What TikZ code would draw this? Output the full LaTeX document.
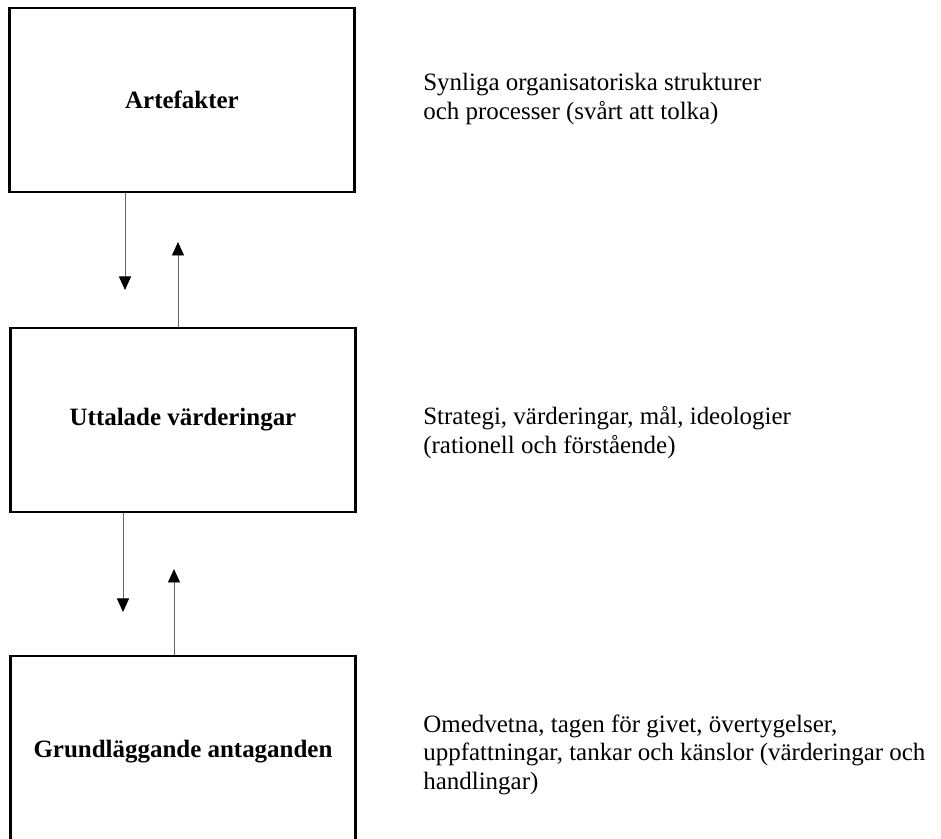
\documentclass[tikz,border=0pt]{standalone}
\usepackage{fontspec}
\setmainfont{Liberation Serif}
\usetikzlibrary{arrows.meta}

\begin{document}
\begin{tikzpicture}[cap=round]

    \def\boxw{6.9}
    \def\boxh{3.68}
    \def\xbox{3.66}
    \def\xnote{8.46}

    % Styles
    \tikzstyle{level}=[draw, line width=1.2pt, minimum width=\boxw cm, minimum height=\boxh cm, inner sep=0pt, font=\bfseries\fontsize{14.2}{16.5}\selectfont]
    \tikzstyle{note}=[anchor=base west, inner sep=0pt, align=left, font=\fontsize{14.2}{16.5}\selectfont]
    \tikzstyle{flow}=[draw=black!60, line width=0.55pt, -{Triangle[width=0.24cm,length=0.27cm,black]}]

    \useasboundingbox (0,0) rectangle (18.82,16.78);
    \clip (0,0) rectangle (18.82,16.78);

    % artefakter
    \node[level] (art) at (3.64,14.78) {Artefakter};
    \node[note] (artnote) at (\xnote,14.38) {Synliga organisatoriska strukturer\\och processer (svårt att tolka)};

    % uttalade vaerderingar
    \node[level] (vard) at (\xbox,8.38) {Uttalade värderingar};
    \node[note] (vardnote) at (\xnote,7.70) {Strategi, värderingar, mål, ideologier\\(rationell och förstående)};

    % grundlaeggande antaganden
    \node[level, minimum height=3.84cm] (grund) at (\xbox,1.74) {Grundläggande antaganden};
    \node[note] (grundnote) at (\xnote,0.98) {Omedvetna, tagen för givet, övertygelser,\\uppfattningar, tankar och känslor (värderingar och\\handlingar)};

    % arrows between artefakter and vaerderingar
    \coordinate (artdown) at (2.5,10.98);
    \coordinate (vardup) at (3.56,11.94);
    \draw[flow] (art.south -| artdown) -- (artdown);
    \draw[flow] (vard.north -| vardup) -- (vardup);

    % arrows between vaerderingar and antaganden
    \coordinate (varddown) at (2.46,4.54);
    \coordinate (grundup) at (3.48,5.40);
    \draw[flow] (vard.south -| varddown) -- (varddown);
    \draw[flow] (grund.north -| grundup) -- (grundup);

\end{tikzpicture}
\end{document}
